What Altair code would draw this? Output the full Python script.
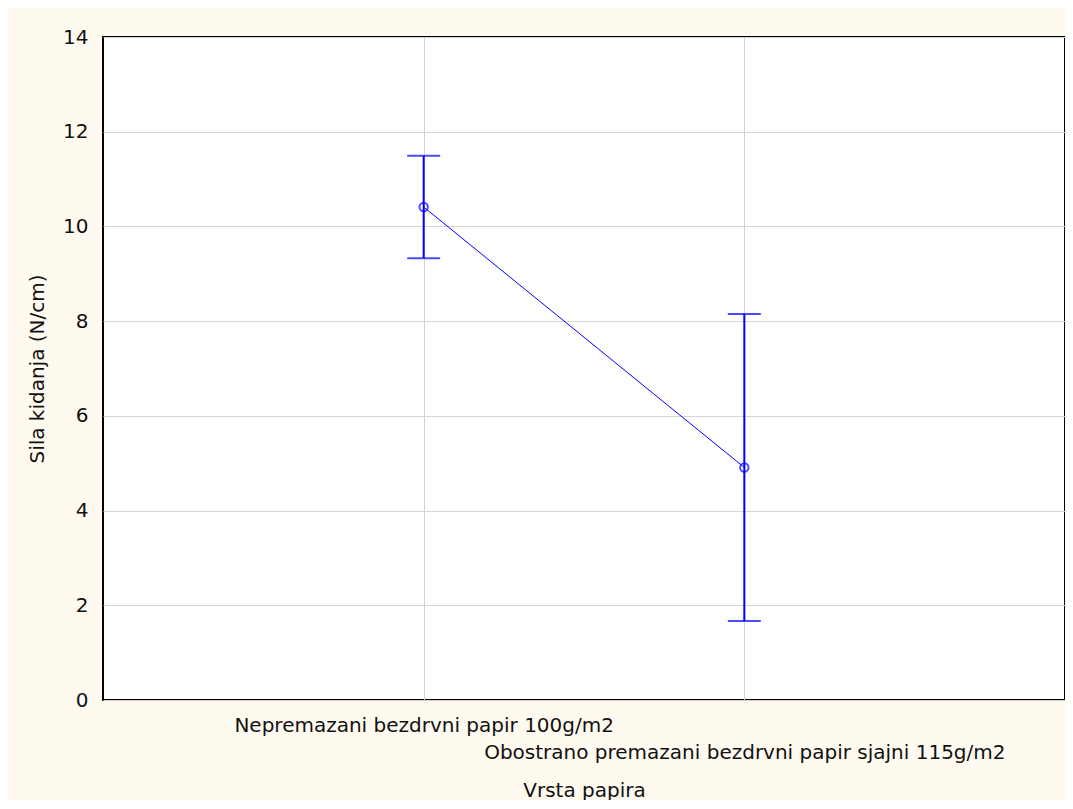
import altair as alt
import pandas as pd

categories = ["Nepremazani bezdrvni papir 100g/m2", "Obostrano premazani bezdrvni papir sjajni 115g/m2"]
means = [10.41, 4.91]
lower = [9.33, 1.67]
upper = [11.49, 8.15]

df = pd.DataFrame({"cat": categories, "mean": means, "lo": lower, "hi": upper})

FONT = "DejaVu Sans"
BLUE = "#0000ff"

x = alt.X("cat:N", sort=categories, title="Vrsta papira",
          scale=alt.Scale(type="point", padding=1),
          axis=alt.Axis(labelAngle=0, domain=False, ticks=False, tickSize=0,
                        grid=True, gridColor="#d4d4d4", gridWidth=1,
                        labelFont=FONT, labelFontSize=20, labelColor="#111111",
                        labelBaseline="top", labelPadding=15, labelLineHeight=27,
                        labelOverlap=False, labelBound=False, labelLimit=0,
                        labelExpr="datum.index > 0.5 ? ['', datum.label] : datum.label",
                        titleFont=FONT, titleFontSize=20, titleFontWeight="normal",
                        titleColor="#111111", titleY=90, titleBaseline="middle"))

yscale = alt.Scale(domain=[0, 14], nice=False, zero=True)
yaxis = alt.Axis(values=[0, 2, 4, 6, 8, 10, 12, 14], domain=False, ticks=False, tickSize=0,
                 grid=True, gridColor="#d4d4d4", gridWidth=1,
                 labelFont=FONT, labelFontSize=20, labelColor="#111111", labelPadding=15,
                 titleFont=FONT, titleFontSize=20, titleFontWeight="normal", titleColor="#111111",
                 title="Sila kidanja (N/cm)", titleX=-66, titleBaseline="middle", titleAlign="center")

base = alt.Chart(df)

line = base.mark_line(color=BLUE, strokeWidth=1).encode(
    x=x, y=alt.Y("mean:Q", scale=yscale, axis=yaxis))
rules = base.mark_rule(color=BLUE, strokeWidth=2).encode(
    x=alt.X("cat:N", sort=categories), y="lo:Q", y2="hi:Q")
cap_lo = base.mark_tick(color=BLUE, size=33, thickness=2, orient="horizontal").encode(
    x=alt.X("cat:N", sort=categories), y="lo:Q")
cap_hi = base.mark_tick(color=BLUE, size=33, thickness=2, orient="horizontal").encode(
    x=alt.X("cat:N", sort=categories), y="hi:Q")
pts = base.mark_point(shape="circle", filled=False, color=BLUE, size=70, strokeWidth=2).encode(
    x=alt.X("cat:N", sort=categories), y="mean:Q")

chart = alt.layer(line, rules, cap_lo, cap_hi, pts).properties(
    width=962, height=663,
    autosize=alt.AutoSizeParams(type="none"),
    padding={"left": 95, "top": 29, "right": 0, "bottom": 100},
    background="#fffaf0",
).configure_view(stroke="#000000", strokeWidth=2, fill="#ffffff")

chart.save("out.html", embed_options={"renderer": "svg", "actions": False})
